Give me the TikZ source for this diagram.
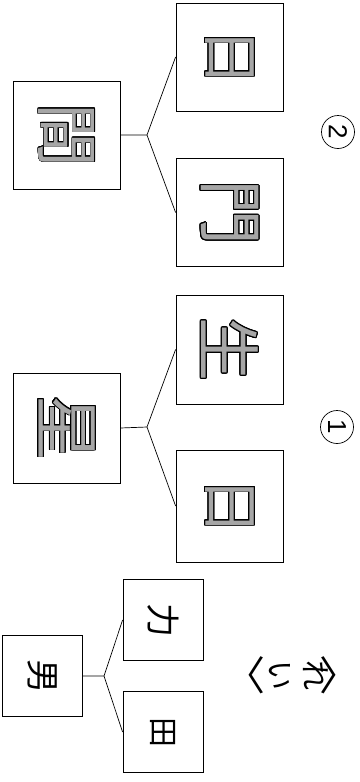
\documentclass[tikz,border=0pt]{standalone}
\usepackage{fontspec}
\usepackage[copies]{contour}
\contourlength{0.8pt}
\contournumber{24}
\setmainfont{Liberation Sans}
\newfontfamily\cjk{Noto Sans CJK JP}
\newcommand{\tracechar}[2]{\rotatebox{-90}{\cjk\fontsize{#1}{#1}\selectfont\contour{black}{\color{black!35}#2}}}
\newcommand{\penchar}[2]{\rotatebox{-90}{\cjk\fontsize{#1}{#1}\selectfont #2}}
\begin{document}
\begin{tikzpicture}[x=1pt,y=-1pt,
  bigbox/.style={draw, line width=0.8pt, inner sep=0pt, minimum width=107pt, minimum height=108pt},
  smallbox/.style={draw, line width=0.8pt, inner sep=0pt, minimum width=80pt, minimum height=81pt},
  link/.style={line width=0.7pt},
  num/.style={draw, circle, line width=0.7pt, inner sep=0pt, minimum size=33pt, font=\fontsize{26}{26}\selectfont},
  lbl/.style={inner sep=0pt}]
\useasboundingbox (0,0) rectangle (359,782);
% group 2
\node[bigbox] (m2) at (66.5,135) {\tracechar{64}{間}};
\node[bigbox] (a2) at (229.5,57) {\tracechar{58}{日}};
\node[bigbox] (b2) at (229.5,212.5) {\tracechar{66}{門}};
\coordinate (j2) at (147,135);
\draw[link] (m2.east) -- (j2) -- (a2.west);
\draw[link] (j2) -- (b2.west);
\node[num] (c2) at (338,132) {\rotatebox{-90}{2}};
% group 1
\node[bigbox, minimum height=110pt] (m1) at (66.5,428) {\tracechar{66}{星}};
\node[bigbox, minimum height=109pt] (a1) at (229.5,349.5) {\tracechar{64}{生}};
\node[bigbox, minimum height=112pt] (b1) at (229.5,506) {\tracechar{58}{日}};
\coordinate (j1) at (147,427);
\draw[link] (m1.east) -- (j1) -- (a1.west);
\draw[link] (j1) -- (b1.west);
\node[num] (c1) at (337,427) {\rotatebox{-90}{1}};
% example
\node[smallbox] (m0) at (42.5,676) {\penchar{34}{男}};
\node[smallbox] (a0) at (163,620) {\penchar{34}{力}};
\node[smallbox] (b0) at (163,732) {\penchar{30}{田}};
\coordinate (j0) at (104,676);
\draw[link] (m0.east) -- (j0) -- (a0.west);
\draw[link] (j0) -- (b0.west);
\node[lbl] (r0) at (255,675) {\cjk\fontsize{40}{40}\selectfont\hspace{-0.5em}〈};
\node[lbl] (r1) at (280,675) {\penchar{30}{い}};
\node[lbl] (r2) at (316,675) {\penchar{30}{れ}};
\node[lbl] (r3) at (339,675) {\cjk\fontsize{40}{40}\selectfont 〉\hspace{-0.5em}};
\end{tikzpicture}
\end{document}
